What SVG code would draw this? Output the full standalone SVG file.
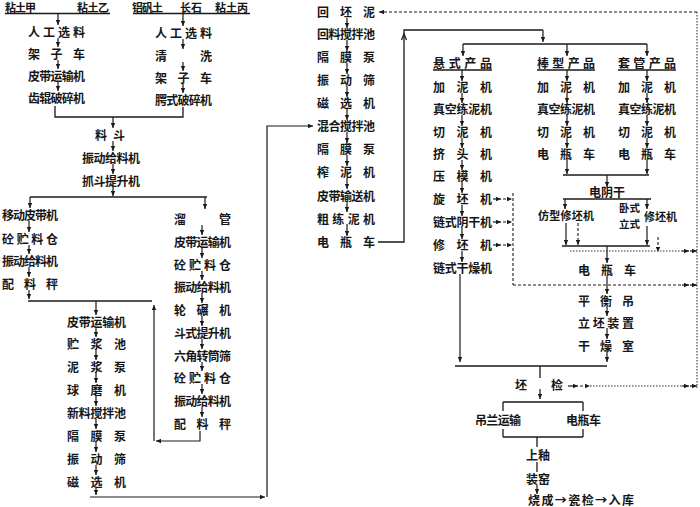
<svg xmlns="http://www.w3.org/2000/svg" width="700" height="507" viewBox="0 0 700 507">
<style>
.t{font-family:"Noto Sans CJK SC","Noto Sans CJK JP",sans-serif;font-size:12px;font-weight:bold;fill:#161616}
.s{font-size:11px}
.xs{font-size:10.5px}
.l{stroke:#1a1a1a;stroke-width:1.3;fill:none}
.a{stroke:#1a1a1a;stroke-width:1.2;fill:none;marker-end:url(#ah)}
.d{stroke:#1a1a1a;stroke-width:1.1;fill:none;stroke-dasharray:3 2}
.da{stroke:#1a1a1a;stroke-width:1.1;fill:none;stroke-dasharray:3 2;marker-end:url(#ah)}
.o{stroke:#333;stroke-width:1.1;fill:none;stroke-dasharray:1.5 1.5}
</style>
<defs>
<marker id="ah" viewBox="0 0 8 8" refX="8" refY="4" markerWidth="5" markerHeight="5" markerUnits="userSpaceOnUse" orient="auto"><path d="M0,0.5 L8,4 L0,7.5 z" fill="#1a1a1a"/></marker>
</defs>
<rect width="700" height="507" fill="#fff"/>

<g id="connectors">
<line class="l" x1="5" y1="13.5" x2="110" y2="13.5"/>
<line class="a" x1="58" y1="14" x2="58" y2="25"/>
<line class="a" x1="58" y1="38" x2="58" y2="47"/>
<line class="a" x1="58" y1="60" x2="58" y2="69"/>
<line class="a" x1="58" y1="82" x2="58" y2="91"/>
<line class="l" x1="133" y1="13.5" x2="250" y2="13.5"/>
<line class="a" x1="183" y1="14" x2="183" y2="26"/>
<line class="a" x1="183" y1="39" x2="183" y2="49"/>
<line class="a" x1="183" y1="62" x2="183" y2="71"/>
<line class="a" x1="183" y1="84" x2="183" y2="93"/>
<polyline class="l" points="55,106 55,117 183,117 183,107"/>
<line class="a" x1="113" y1="117" x2="113" y2="128"/>
<line class="a" x1="113" y1="141" x2="113" y2="151"/>
<line class="a" x1="113" y1="164" x2="113" y2="174"/>
<line class="a" x1="113" y1="187" x2="113" y2="196"/>
<line class="l" x1="30" y1="197" x2="207" y2="197"/>
<line class="a" x1="30" y1="197" x2="30" y2="208"/>
<line class="a" x1="205" y1="197" x2="205" y2="209"/>
<line class="a" x1="29" y1="221" x2="29" y2="232"/>
<line class="a" x1="29" y1="245" x2="29" y2="254"/>
<line class="a" x1="29" y1="267" x2="29" y2="277"/>
<line class="a" x1="29" y1="290" x2="29" y2="299"/>
<line class="l" x1="28" y1="301" x2="152" y2="301"/>
<line class="a" x1="202" y1="225" x2="202" y2="235"/>
<line class="a" x1="202" y1="248" x2="202" y2="258"/>
<line class="a" x1="202" y1="271" x2="202" y2="280"/>
<line class="a" x1="202" y1="293" x2="202" y2="303"/>
<line class="a" x1="202" y1="316" x2="202" y2="326"/>
<line class="a" x1="202" y1="339" x2="202" y2="349"/>
<line class="a" x1="202" y1="362" x2="202" y2="371"/>
<line class="a" x1="202" y1="384" x2="202" y2="394"/>
<line class="a" x1="202" y1="407" x2="202" y2="417"/>
<polyline class="a" points="200,431 200,441 156,441"/>
<line class="a" x1="154" y1="441" x2="154" y2="305"/>
<line class="a" x1="96" y1="301" x2="96" y2="315"/>
<line class="a" x1="96" y1="328" x2="96" y2="337"/>
<line class="a" x1="96" y1="350" x2="96" y2="360"/>
<line class="a" x1="96" y1="373" x2="96" y2="383"/>
<line class="a" x1="96" y1="396" x2="96" y2="406"/>
<line class="a" x1="96" y1="419" x2="96" y2="429"/>
<line class="a" x1="96" y1="442" x2="96" y2="452"/>
<line class="a" x1="96" y1="465" x2="96" y2="475"/>
<line class="a" x1="96" y1="488" x2="96" y2="495"/>
<line class="a" x1="90" y1="497" x2="265" y2="497"/>
<polyline class="a" points="267,497 267,126 313,126"/>
<line class="a" x1="347" y1="18" x2="347" y2="28"/>
<line class="a" x1="347" y1="40" x2="347" y2="51"/>
<line class="a" x1="347" y1="63" x2="347" y2="74"/>
<line class="a" x1="347" y1="86" x2="347" y2="97"/>
<line class="a" x1="347" y1="109" x2="347" y2="120"/>
<line class="a" x1="347" y1="132" x2="347" y2="143"/>
<line class="a" x1="347" y1="155" x2="347" y2="166"/>
<line class="a" x1="347" y1="178" x2="347" y2="189"/>
<line class="a" x1="347" y1="201" x2="347" y2="212"/>
<line class="a" x1="347" y1="224" x2="347" y2="236"/>
<line class="da" x1="697" y1="12" x2="379" y2="12"/>
<line class="o" x1="697" y1="12" x2="697" y2="388"/>
<polyline class="l" points="378,242 404,242 404,30 543,30"/>
<path d="M401.5,40 L404,34 L406.5,40" class="l" stroke-width="1"/>
<line class="a" x1="543" y1="30" x2="543" y2="42"/>
<line class="l" x1="463" y1="44" x2="647" y2="44"/>
<line class="a" x1="463" y1="44" x2="463" y2="56"/>
<line class="a" x1="567" y1="44" x2="567" y2="56"/>
<line class="a" x1="647" y1="44" x2="647" y2="56"/>
<line class="l" x1="433" y1="70" x2="492" y2="70"/>
<line class="l" x1="537" y1="70" x2="595" y2="70"/>
<line class="l" x1="618" y1="70" x2="676" y2="70"/>
<line class="a" x1="462" y1="70" x2="462" y2="81"/>
<line class="a" x1="462" y1="93" x2="462" y2="103"/>
<line class="a" x1="462" y1="115" x2="462" y2="126"/>
<line class="a" x1="462" y1="138" x2="462" y2="148"/>
<line class="a" x1="462" y1="160" x2="462" y2="170"/>
<line class="a" x1="462" y1="182" x2="462" y2="193"/>
<line class="a" x1="462" y1="205" x2="462" y2="216"/>
<line class="a" x1="462" y1="228" x2="462" y2="239"/>
<line class="a" x1="462" y1="251" x2="462" y2="262"/>
<line class="a" x1="567" y1="70" x2="567" y2="81"/>
<line class="a" x1="567" y1="93" x2="567" y2="103"/>
<line class="a" x1="567" y1="115" x2="567" y2="126"/>
<line class="a" x1="567" y1="138" x2="567" y2="148"/>
<line class="a" x1="647" y1="70" x2="647" y2="81"/>
<line class="a" x1="647" y1="93" x2="647" y2="103"/>
<line class="a" x1="647" y1="115" x2="647" y2="126"/>
<line class="a" x1="647" y1="138" x2="647" y2="148"/>
<line class="a" x1="567" y1="160" x2="567" y2="174"/>
<line class="a" x1="647" y1="160" x2="647" y2="174"/>
<line class="l" x1="563" y1="175" x2="649" y2="175"/>
<line class="a" x1="607" y1="175" x2="607" y2="187"/>
<line class="l" x1="563" y1="199" x2="651" y2="199"/>
<line class="a" x1="565" y1="199" x2="565" y2="209"/>
<line class="a" x1="647" y1="199" x2="647" y2="209"/>
<line class="a" x1="566" y1="223" x2="566" y2="245"/>
<line class="da" x1="578" y1="223" x2="578" y2="245"/>
<line class="a" x1="647" y1="226" x2="647" y2="245"/>
<line class="da" x1="658" y1="237" x2="658" y2="252"/>
<line class="l" x1="562" y1="246" x2="650" y2="246"/>
<line class="o" x1="570" y1="251" x2="682" y2="251"/>
<line class="a" x1="682" y1="251" x2="689" y2="251"/>
<line class="a" x1="690" y1="251" x2="697" y2="251"/>
<line class="a" x1="607" y1="246" x2="607" y2="263"/>
<line class="a" x1="607" y1="276" x2="607" y2="294"/>
<line class="d" x1="513" y1="193" x2="513" y2="285"/>
<line class="d" x1="513" y1="285" x2="682" y2="285"/>
<line class="a" x1="682" y1="285" x2="689" y2="285"/>
<line class="a" x1="690" y1="285" x2="697" y2="285"/>
<line class="a" x1="493" y1="199" x2="501" y2="199"/>
<line class="da" x1="503" y1="199" x2="512" y2="199"/>
<line class="a" x1="493" y1="222" x2="501" y2="222"/>
<line class="da" x1="503" y1="222" x2="512" y2="222"/>
<line class="a" x1="493" y1="245" x2="501" y2="245"/>
<line class="da" x1="503" y1="245" x2="512" y2="245"/>
<line class="a" x1="607" y1="306" x2="607" y2="316"/>
<line class="a" x1="607" y1="328" x2="607" y2="339"/>
<line class="a" x1="607" y1="351" x2="607" y2="362"/>
<line class="l" x1="455" y1="366" x2="607" y2="366"/>
<line class="a" x1="460" y1="274" x2="460" y2="362"/>
<line class="l" x1="540" y1="366" x2="540" y2="378"/>
<line class="a" x1="540" y1="389" x2="540" y2="399"/>
<line class="a" x1="568" y1="386" x2="578" y2="386"/>
<line class="da" x1="580" y1="386" x2="590" y2="386"/>
<line class="o" x1="590" y1="386" x2="682" y2="386"/>
<line class="a" x1="682" y1="386" x2="689" y2="386"/>
<line class="a" x1="690" y1="386" x2="697" y2="386"/>
<line class="l" x1="503" y1="402" x2="583" y2="402"/>
<line class="l" x1="503" y1="402" x2="503" y2="411"/>
<line class="l" x1="503" y1="429" x2="503" y2="437"/>
<line class="l" x1="583" y1="402" x2="583" y2="411"/>
<line class="l" x1="583" y1="429" x2="583" y2="437"/>
<line class="l" x1="503" y1="437" x2="583" y2="437"/>
<line class="l" x1="537" y1="437" x2="537" y2="447"/>
<line class="l" x1="537" y1="462" x2="537" y2="472"/>
<line class="a" x1="537" y1="485" x2="537" y2="494"/>
</g>

<g id="n-top-a"><text class="t s" x="5" y="11.5" textLength="31">粘土甲</text><text class="t s" x="77" y="11.5" textLength="32">粘土乙</text></g>
<g id="n-top-b"><text class="t s" x="132" y="11.5" textLength="31">铝矾土</text><text class="t s" x="180" y="11.5" textLength="22">长石</text><text class="t s" x="215" y="11.5" textLength="33">粘土丙</text></g>

<g id="nA1"><text class="t" x="28" y="36.5" textLength="57">人工选料</text></g>
<g id="nA2"><text class="t" x="28" y="58.5" textLength="57">架子车</text></g>
<g id="nA3"><text class="t" x="28" y="80.5" textLength="57">皮带运输机</text></g>
<g id="nA4"><text class="t" x="28" y="102.5" textLength="57">齿辊破碎机</text></g>

<g id="nB1"><text class="t" x="155" y="37.5" textLength="57">人工选料</text></g>
<g id="nB2"><text class="t" x="155" y="60.5" textLength="57">清洗</text></g>
<g id="nB3"><text class="t" x="155" y="82.5" textLength="57">架子车</text></g>
<g id="nB4"><text class="t" x="155" y="104.5" textLength="57">腭式破碎机</text></g>

<g id="n-liaodou"><text class="t" x="95" y="139.5" textLength="30">料斗</text></g>
<g id="n-zdgl1"><text class="t" x="82" y="162.5" textLength="58">振动给料机</text></g>
<g id="n-zhuadou"><text class="t" x="82" y="185.5" textLength="58">抓斗提升机</text></g>

<g id="nC1"><text class="t" x="2" y="219.5" textLength="56">移动皮带机</text></g>
<g id="nC2"><text class="t" x="2" y="243.5" textLength="56">砼贮料仓</text></g>
<g id="nC3"><text class="t" x="2" y="265.5" textLength="56">振动给料机</text></g>
<g id="nC4"><text class="t" x="2" y="288.5" textLength="56">配料秤</text></g>

<g id="nD1"><text class="t" x="174" y="223.5" textLength="57">溜管</text></g>
<g id="nD2"><text class="t" x="174" y="246.5" textLength="57">皮带运输机</text></g>
<g id="nD3"><text class="t" x="174" y="269.5" textLength="57">砼贮料仓</text></g>
<g id="nD4"><text class="t" x="174" y="291.5" textLength="57">振动给料机</text></g>
<g id="nD5"><text class="t" x="174" y="314.5" textLength="57">轮碾机</text></g>
<g id="nD6"><text class="t" x="174" y="337.5" textLength="57">斗式提升机</text></g>
<g id="nD7"><text class="t" x="174" y="360.5" textLength="57">六角转筒筛</text></g>
<g id="nD8"><text class="t" x="174" y="382.5" textLength="57">砼贮料仓</text></g>
<g id="nD9"><text class="t" x="174" y="405.5" textLength="57">振动给料机</text></g>
<g id="nD10"><text class="t" x="174" y="428.5" textLength="57">配料秤</text></g>

<g id="nE1"><text class="t" x="67" y="326.5" textLength="59">皮带运输机</text></g>
<g id="nE2"><text class="t" x="67" y="348.5" textLength="59">贮浆池</text></g>
<g id="nE3"><text class="t" x="67" y="371.5" textLength="59">泥浆泵</text></g>
<g id="nE4"><text class="t" x="67" y="394.5" textLength="59">球磨机</text></g>
<g id="nE5"><text class="t" x="67" y="417.5" textLength="59">新料搅拌池</text></g>
<g id="nE6"><text class="t" x="67" y="440.5" textLength="59">隔膜泵</text></g>
<g id="nE7"><text class="t" x="67" y="463.5" textLength="59">振动筛</text></g>
<g id="nE8"><text class="t" x="67" y="486.5" textLength="59">磁选机</text></g>

<g id="nF1"><text class="t" x="317" y="16.5" textLength="58">回坯泥</text></g>
<g id="nF2"><text class="t" x="317" y="38.5" textLength="58">回料搅拌池</text></g>
<g id="nF3"><text class="t" x="317" y="61.5" textLength="58">隔膜泵</text></g>
<g id="nF4"><text class="t" x="317" y="84.5" textLength="58">振动筛</text></g>
<g id="nF5"><text class="t" x="317" y="107.5" textLength="58">磁选机</text></g>
<g id="nF6"><text class="t" x="317" y="130.5" textLength="58">混合搅拌池</text></g>
<g id="nF7"><text class="t" x="317" y="153.5" textLength="58">隔膜泵</text></g>
<g id="nF8"><text class="t" x="317" y="176.5" textLength="58">榨泥机</text></g>
<g id="nF9"><text class="t" x="317" y="200.5" textLength="58">皮带输送机</text></g>
<g id="nF10"><text class="t" x="317" y="223.5" textLength="58">粗练泥机</text></g>
<g id="nF11"><text class="t" x="317" y="246.5" textLength="58">电瓶车</text></g>

<g id="nG0"><text class="t" x="433" y="67.5" textLength="59">悬式产品</text></g>
<g id="nG1"><text class="t" x="433" y="91.5" textLength="59">加泥机</text></g>
<g id="nG2"><text class="t" x="433" y="113.5" textLength="59">真空练泥机</text></g>
<g id="nG3"><text class="t" x="433" y="136.5" textLength="59">切泥机</text></g>
<g id="nG4"><text class="t" x="433" y="158.5" textLength="59">挤头机</text></g>
<g id="nG5"><text class="t" x="433" y="180.5" textLength="59">压模机</text></g>
<g id="nG6"><text class="t" x="433" y="203.5" textLength="59">旋坯机</text></g>
<g id="nG7"><text class="t" x="433" y="226.5" textLength="59">链式阴干机</text></g>
<g id="nG8"><text class="t" x="433" y="249.5" textLength="59">修坯机</text></g>
<g id="nG9"><text class="t" x="433" y="272.5" textLength="59">链式干燥机</text></g>

<g id="nH0"><text class="t" x="537" y="67.5" textLength="58">棒型产品</text></g>
<g id="nH1"><text class="t" x="537" y="91.5" textLength="58">加泥机</text></g>
<g id="nH2"><text class="t" x="537" y="113.5" textLength="58">真空练泥机</text></g>
<g id="nH3"><text class="t" x="537" y="136.5" textLength="58">切泥机</text></g>
<g id="nH4"><text class="t" x="537" y="158.5" textLength="58">电瓶车</text></g>

<g id="nI0"><text class="t" x="618" y="67.5" textLength="58">套管产品</text></g>
<g id="nI1"><text class="t" x="618" y="91.5" textLength="58">加泥机</text></g>
<g id="nI2"><text class="t" x="618" y="113.5" textLength="58">真空练泥机</text></g>
<g id="nI3"><text class="t" x="618" y="136.5" textLength="58">切泥机</text></g>
<g id="nI4"><text class="t" x="618" y="158.5" textLength="58">电瓶车</text></g>

<g id="n-dianyingan"><text class="t" x="607" y="197" text-anchor="middle">电阴干</text></g>
<g id="n-fangxing"><text class="t s" x="538" y="220" textLength="56">仿型修坯机</text></g>
<g id="n-woshi"><text class="t xs" x="619" y="212" textLength="21">卧式</text><text class="t xs" x="619" y="228" textLength="21">立式</text><text class="t s" x="644" y="221" textLength="33">修坯机</text></g>

<g id="nJ1"><text class="t" x="578" y="274.5" textLength="58">电瓶车</text></g>
<g id="nJ2"><text class="t" x="578" y="305.5" textLength="56">平衡吊</text></g>
<g id="nJ3"><text class="t" x="578" y="327.5" textLength="56">立坯装置</text></g>
<g id="nJ4"><text class="t" x="578" y="350.5" textLength="56">干燥室</text></g>

<g id="n-pijian"><text class="t" x="515" y="389.5">坯</text><text class="t" x="551" y="389.5">检</text></g>
<g id="n-diaolan"><text class="t" x="475" y="424.5" textLength="46">吊兰运输</text></g>
<g id="n-dianping2"><text class="t" x="566" y="424.5" textLength="35">电瓶车</text></g>
<g id="n-shangyou"><text class="t" x="526" y="459.5" textLength="24">上釉</text></g>
<g id="n-zhuangyao"><text class="t" x="526" y="483.5" textLength="24">装窑</text></g>
<g id="n-end"><text class="t" x="528" y="504.5" textLength="106">烧成→瓷检→入库</text></g>
</svg>
